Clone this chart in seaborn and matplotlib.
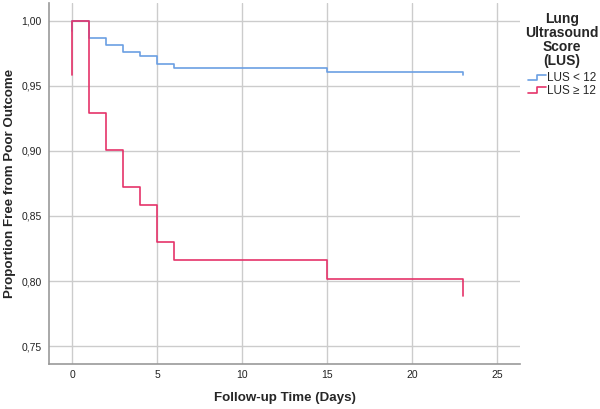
import numpy as np
import pandas as pd
import seaborn as sns
import matplotlib.pyplot as plt
from matplotlib.lines import Line2D
from matplotlib.legend_handler import HandlerLine2D

# Kaplan-Meier step values
days = [0, 0, 1, 2, 3, 4, 5, 6, 15, 23, 23]
surv_low = [0.992, 1.000, 0.9867, 0.9813, 0.9760, 0.9726, 0.9670, 0.9636, 0.9610, 0.9610, 0.9580]
surv_high = [0.958, 1.000, 0.9292, 0.9008, 0.8725, 0.8585, 0.8298, 0.8159, 0.8017, 0.8017, 0.7885]
groups = ["LUS < 12", "LUS \u2265 12"]
colors = ["#6b9fe3", "#e5336a"]

df = pd.concat([
    pd.DataFrame({"time": days, "surv": surv_low, "group": groups[0]}),
    pd.DataFrame({"time": days, "surv": surv_high, "group": groups[1]}),
], ignore_index=True)


class StepHandler(HandlerLine2D):
    def create_artists(self, legend, orig_handle, xdescent, ydescent,
                       width, height, fontsize, trans):
        xs = np.array([0, 0.5, 0.5, 1.0]) * width - xdescent
        ys = np.array([0.1, 0.1, 0.8, 0.8]) * height - ydescent
        ln = Line2D(xs, ys, color=orig_handle.get_color(), lw=1.2)
        ln.set_transform(trans)
        return [ln]


sns.set_style("white")
plt.rcParams["font.family"] = ["Liberation Sans", "DejaVu Sans"]

fig = plt.figure(figsize=(6, 4.09), dpi=100)
ax = fig.add_axes([0.0817, 0.110, 0.785, 0.883])

sns.lineplot(data=df, x="time", y="surv", hue="group", palette=colors,
             estimator=None, sort=False, drawstyle="steps-post",
             linewidth=1.2, ax=ax, legend=False, zorder=3)

ax.set_xlim(-1.37, 26.35)
ax.set_ylim(0.7362, 1.0138)
ax.set_xticks([0, 5, 10, 15, 20, 25])
ax.set_yticks([0.75, 0.80, 0.85, 0.90, 0.95, 1.00])
ax.set_yticklabels([f"{v:.2f}".replace(".", ",") for v in ax.get_yticks()])
ax.grid(True, color="#cccccc", lw=1.0, zorder=0)
ax.tick_params(length=0, labelsize=7.5, colors="#222222")
ax.tick_params(axis="y", pad=5.5)
ax.tick_params(axis="x", pad=4)
for s in ["top", "right"]:
    ax.spines[s].set_visible(False)
for s in ["left", "bottom"]:
    ax.spines[s].set_color("#999999")
    ax.spines[s].set_linewidth(1.2)

ax.set_xlabel("Follow-up Time (Days)", fontsize=9.6, fontweight="bold")
ax.set_ylabel("Proportion Free from Poor Outcome", fontsize=9.6, fontweight="bold")
ax.xaxis.set_label_coords(0.5, -0.077)
ax.yaxis.set_label_coords(-0.071, 0.50)

handles = [Line2D([], [], color=c) for c in colors]
leg = fig.legend(handles, groups, loc="upper center", bbox_to_anchor=(0.937, 0.985),
                 title="Lung\nUltrasound\nScore\n(LUS)", frameon=False,
                 fontsize=8.5, handlelength=1.5, handletextpad=0.1,
                 labelspacing=0.05, alignment="center", borderpad=0,
                 title_fontproperties={"weight": "bold", "size": 10},
                 handler_map={Line2D: StepHandler()})
leg.get_title().set_multialignment("center")
leg.get_title().set_linespacing(1.0)
leg._legend_box.sep = 3

fig.savefig("out.png", dpi=100)
